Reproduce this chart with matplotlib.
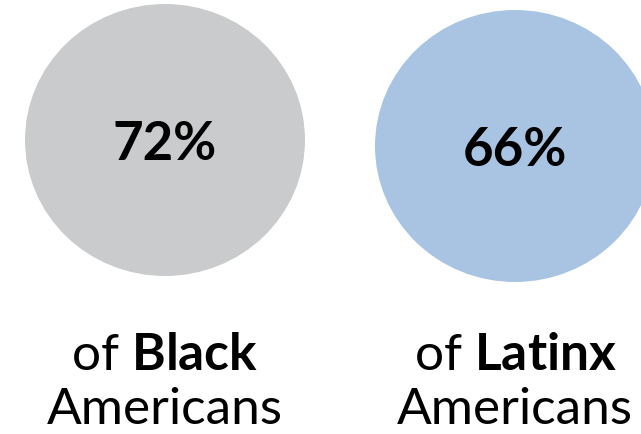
import matplotlib
matplotlib.use("Agg")
import matplotlib.pyplot as plt
from matplotlib.patches import Ellipse

plt.rcParams['font.family'] = ['Lato', 'DejaVu Sans']
plt.rcParams['mathtext.fontset'] = 'custom'
plt.rcParams['mathtext.rm'] = 'Lato'
plt.rcParams['mathtext.bf'] = 'Lato:bold'

# Data
groups = ["Black", "Latinx"]
shares = [72, 66]
colors = ["#c9cbcc", "#a8c4e2"]
centers_x = [165, 515]
centers_y = [140, 146]

fig = plt.figure(figsize=(6.41, 4.34), dpi=100)
ax = fig.add_axes([0, 0, 1, 1])
ax.set_xlim(0, 641)
ax.set_ylim(434, 0)
ax.axis('off')

for g, s, c, cx, cy in zip(groups, shares, colors, centers_x, centers_y):
    ax.add_patch(Ellipse((cx, cy), 280, 272, facecolor=c, edgecolor='none'))
    ax.text(cx, cy + 20, f"{s}%", ha='center', va='baseline', fontsize=38,
            fontweight='bold', color='black')
    ax.text(cx, 370, r"of $\mathbf{" + g + "}$", ha='center', va='baseline',
            fontsize=37, color='black')
    ax.text(cx, 433.5, "Americans", ha='center', va='bottom', fontsize=37,
            color='black')

fig.savefig("out.png", dpi=100)
